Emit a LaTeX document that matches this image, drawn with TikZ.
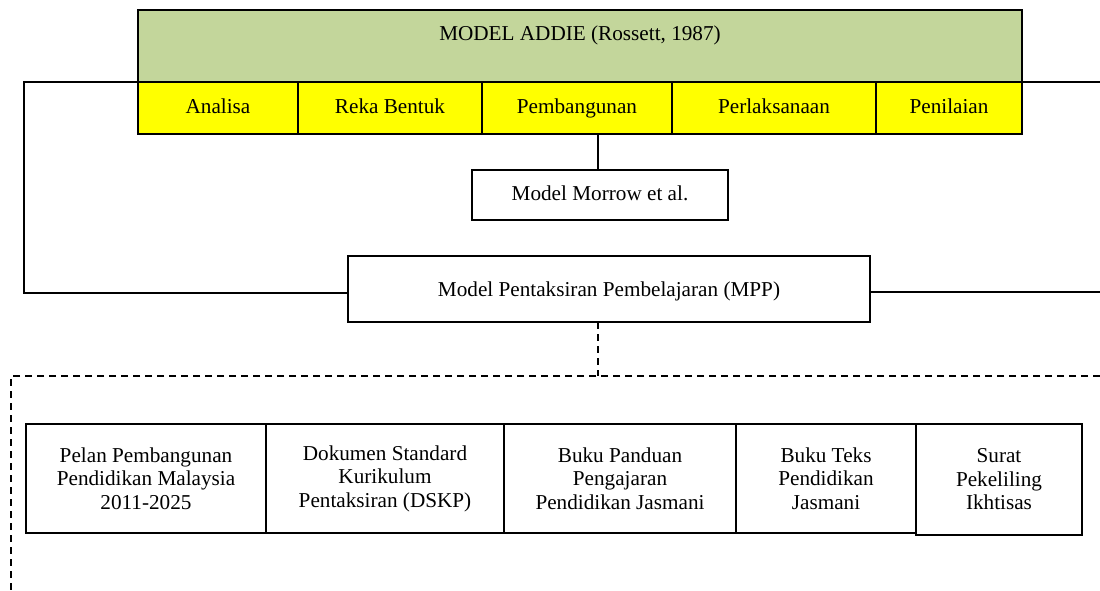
\documentclass[tikz,border=0pt]{standalone}
\usepackage{fontspec}
\setmainfont{Liberation Serif}
\definecolor{addiegreen}{HTML}{C3D69B}
\definecolor{phaseyellow}{HTML}{FFFF00}
\begin{document}
\begin{tikzpicture}[x=1pt,y=-1pt,
  every node/.style={font=\fontsize{21.2}{23.5}\selectfont, inner sep=0pt, outer sep=0pt},
  box/.style={draw=black, line width=1.6pt, rectangle, align=center},
  oneline/.style={text height=14.5pt, text depth=4.5pt},
  greenbox/.style={box, fill=addiegreen, minimum width=884pt, minimum height=72pt},
  phase/.style={box, oneline, fill=phaseyellow, minimum height=52pt},
  doc/.style={box, fill=white, minimum height=109pt},
  link/.style={line width=1.6pt},
  dlink/.style={line width=1.6pt, dash pattern=on 7pt off 5pt}
]
\useasboundingbox (0,0) rectangle (1100,590);

% ADDIE header
\node[greenbox] (addie) at (580,46) {};
\node[oneline] (addietext) at (580,35) {MODEL ADDIE (Rossett, 1987)};

% phases
\node[phase, minimum width=160pt] (anal) at (218,108) {Analisa};
\node[phase, minimum width=184pt] (reka) at (390,108) {Reka Bentuk};
\node[phase, minimum width=190pt] (pemb) at (577,108) {Pembangunan};
\node[phase, minimum width=204pt] (perl) at (774,108) {Perlaksanaan};
\node[phase, minimum width=146pt] (peni) at (949,108) {Penilaian};

% Morrow
\node[box, oneline, minimum width=256pt, minimum height=50pt] (morrow) at (600,195) {Model Morrow et al.};

% MPP
\node[box, text height=18.5pt, text depth=4.5pt, minimum width=522pt, minimum height=66pt] (mpp) at (609,289) {Model Pentaksiran Pembelajaran (MPP)};

% documents
\node[doc, minimum width=240pt] (pelan) at (146,478.5) {Pelan Pembangunan\\Pendidikan Malaysia\\2011-2025};
\node[doc, minimum width=238pt] (dskp) at (385,478.5) {Dokumen Standard\\Kurikulum\\Pentaksiran (DSKP)};
\node[doc, minimum width=232pt] (panduan) at (620,478.5) {Buku Panduan\\Pengajaran\\Pendidikan Jasmani};
\node[doc, minimum width=180pt] (teks) at (826,478.5) {Buku Teks\\Pendidikan\\Jasmani};
\node[doc, minimum width=166pt, minimum height=111pt] (surat) at (999,479.5) {Surat\\Pekeliling\\Ikhtisas};

% connectors
\coordinate (lt) at (24,82);
\coordinate (rt) at (1100,82);
\coordinate (rm) at (1100,292);
\draw[link] (addie.south west) -- (lt) |- ([yshift=-4pt]mpp.west);
\draw[link] (addie.south east) -- (rt);
\draw[link] ([yshift=-3pt]mpp.east) -- (rm);
\draw[link] ([xshift=-2pt]morrow.north) -- ([xshift=-2pt]morrow.north |- pemb.south);

\coordinate (dj) at (598,376);
\coordinate (dl) at (11,376);
\coordinate (dr) at (1100,376);
\coordinate (db) at (11,590);
\draw[dlink] (dj |- mpp.south) -- (dj);
\draw[dlink] (dr) -- (dl) -- (db);
\end{tikzpicture}
\end{document}
